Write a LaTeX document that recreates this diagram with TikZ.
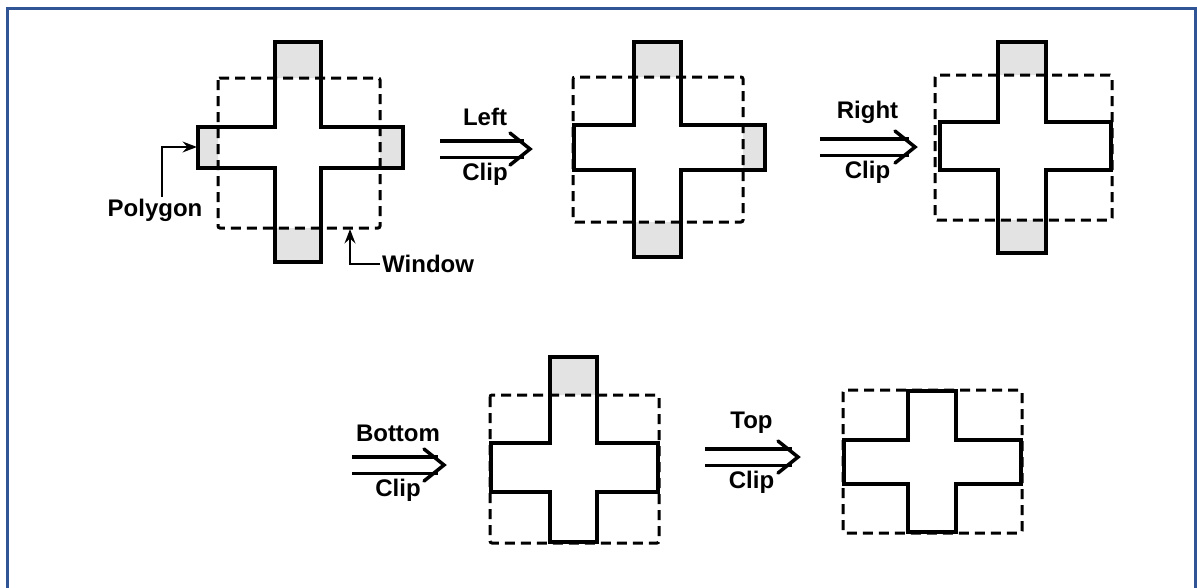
\documentclass[tikz,border=0pt]{standalone}
\usepackage{fontspec}
\setmainfont{Liberation Sans}
\usepackage{tikz}
\usetikzlibrary{arrows.meta,positioning}
\definecolor{frameblue}{HTML}{2F5597}

\begin{document}
\begin{tikzpicture}[x=1pt,y=-1pt,>=Stealth,
  cross/.style={draw=black,line width=4.5pt,line join=miter},
  window/.style={draw=black,line width=3pt,dash pattern=on 10pt off 6pt,rounded corners=2pt},
  outside/.style={fill=gray!22,even odd rule},
  clipto/.style={double,double distance=13pt,line width=3.5pt,shorten >=6pt},
  head/.style={line width=3.5pt,line join=miter,line cap=round},
  lbl/.style={font=\bfseries\fontsize{24}{28}\selectfont,inner sep=2pt}]
\useasboundingbox (0,0) rectangle (1197,587);
\draw[frameblue,line width=3pt] (7,592) |- (1195,8) -- (1195,592);

% original polygon and window
\begin{scope}
\clip (275,42) -- (321,42) -- (321,127) -- (403,127) -- (403,168) -- (321,168) -- (321,262) -- (275,262) -- (275,168) -- (198,168) -- (198,127) -- (275,127) -- cycle;
\fill[outside] (150,20) rectangle (450,290) (218,78) rectangle (380,228);
\end{scope}
\draw[cross] (275,42) -- (321,42) -- (321,127) -- (403,127) -- (403,168) -- (321,168) -- (321,262) -- (275,262) -- (275,168) -- (198,168) -- (198,127) -- (275,127) -- cycle;
\draw[window] (218,78) rectangle (380,228);
\node[lbl] (polygon) at (155,210) {Polygon};
\node[lbl,anchor=west] (window) at (380,264) {Window};
\coordinate (polyedge) at (197,147);
\coordinate (winedge) at (350,229);
\draw[->,line width=2.5pt] ([xshift=7pt]polygon.north) |- (polyedge);
\draw[->,line width=2.5pt] (window.west) -| (winedge);

% left clip
\coordinate (lefta) at (440,149);
\coordinate (leftb) at (530,149);
\draw[clipto] (lefta) -- node[lbl,above=20pt] (lefttxt) {Left} node[lbl,below=10pt] (leftclip) {Clip} (leftb);
\draw[head] ([shift={(-20,-16)}]leftb) -- (leftb) -- ([shift={(-20,16)}]leftb);
\begin{scope}
\clip (634,42) -- (681,42) -- (681,125) -- (765,125) -- (765,170) -- (681,170) -- (681,257) -- (634,257) -- (634,170) -- (574,170) -- (574,125) -- (634,125) -- cycle;
\fill[outside] (550,20) rectangle (790,290) (573,77) rectangle (743,222);
\end{scope}
\draw[cross] (634,42) -- (681,42) -- (681,125) -- (765,125) -- (765,170) -- (681,170) -- (681,257) -- (634,257) -- (634,170) -- (574,170) -- (574,125) -- (634,125) -- cycle;
\draw[window] (573,77) rectangle (743,222);

% right clip
\coordinate (righta) at (820,147);
\coordinate (rightb) at (915,147);
\draw[clipto] (righta) -- node[lbl,above=20pt] (righttxt) {Right} node[lbl,below=10pt] (rightclip) {Clip} (rightb);
\draw[head] ([shift={(-20,-16)}]rightb) -- (rightb) -- ([shift={(-20,16)}]rightb);
\begin{scope}
\clip (998,42) -- (1046,42) -- (1046,122) -- (1111,122) -- (1111,170) -- (1046,170) -- (1046,253) -- (998,253) -- (998,170) -- (940,170) -- (940,122) -- (998,122) -- cycle;
\fill[outside] (920,20) rectangle (1140,290) (935,75) rectangle (1112,220);
\end{scope}
\draw[cross] (998,42) -- (1046,42) -- (1046,122) -- (1111,122) -- (1111,170) -- (1046,170) -- (1046,253) -- (998,253) -- (998,170) -- (940,170) -- (940,122) -- (998,122) -- cycle;
\draw[window] (935,75) rectangle (1112,220);

% bottom clip
\coordinate (bottoma) at (352,465);
\coordinate (bottomb) at (444,465);
\draw[clipto] (bottoma) -- node[lbl,above=20pt] (bottomtxt) {Bottom} node[lbl,below=10pt] (bottomclip) {Clip} (bottomb);
\draw[head] ([shift={(-20,-16)}]bottomb) -- (bottomb) -- ([shift={(-20,16)}]bottomb);
\begin{scope}
\clip (550,357) -- (597,357) -- (597,443) -- (658,443) -- (658,492) -- (597,492) -- (597,542) -- (550,542) -- (550,492) -- (491,492) -- (491,443) -- (550,443) -- cycle;
\fill[outside] (470,340) rectangle (680,570) (490,395) rectangle (659,543);
\end{scope}
\draw[cross] (550,357) -- (597,357) -- (597,443) -- (658,443) -- (658,492) -- (597,492) -- (597,542) -- (550,542) -- (550,492) -- (491,492) -- (491,443) -- (550,443) -- cycle;
\draw[window] (490,395) rectangle (659,543);

% top clip
\coordinate (topa) at (705,457);
\coordinate (topb) at (798,457);
\draw[clipto] (topa) -- node[lbl,above=20pt] (toptxt) {Top} node[lbl,below=10pt] (topclip) {Clip} (topb);
\draw[head] ([shift={(-20,-16)}]topb) -- (topb) -- ([shift={(-20,16)}]topb);
\draw[cross] (908,391) -- (956,391) -- (956,440) -- (1021,440) -- (1021,484) -- (956,484) -- (956,532) -- (908,532) -- (908,484) -- (844,484) -- (844,440) -- (908,440) -- cycle;
\draw[window] (843,390) rectangle (1022,533);
\end{tikzpicture}
\end{document}
